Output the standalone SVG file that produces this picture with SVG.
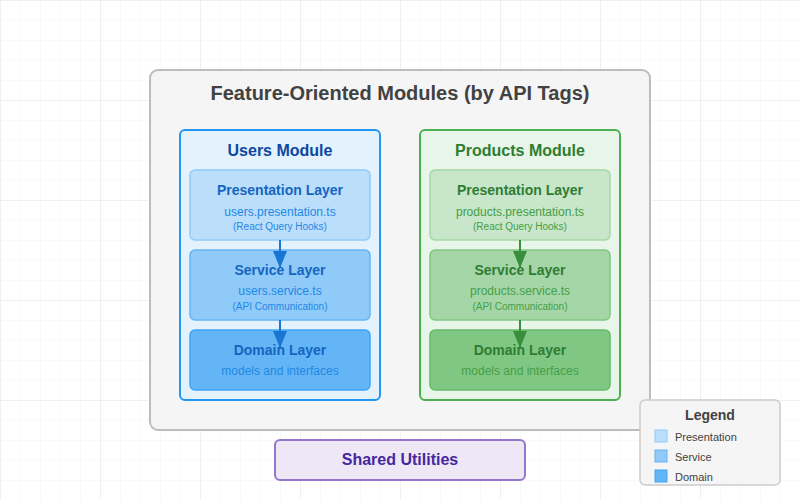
<svg xmlns="http://www.w3.org/2000/svg" width="800" height="500" viewBox="0 0 800 500">
<defs>
<pattern id="minor" width="20" height="20" patternUnits="userSpaceOnUse"><path d="M20 0 L0 0 0 20" fill="none" stroke="#f3f3f3" stroke-width="1"/></pattern>
<pattern id="major" width="100" height="100" patternUnits="userSpaceOnUse"><rect width="100" height="100" fill="url(#minor)"/><path d="M100 0 L0 0 0 100" fill="none" stroke="#e6e6e6" stroke-width="1"/></pattern>
<marker id="ab" markerUnits="userSpaceOnUse" markerWidth="17" markerHeight="14" refX="17" refY="7" orient="auto"><path d="M0,0 L17,7 L0,14 z" fill="#1976d2"/></marker>
<marker id="ag" markerUnits="userSpaceOnUse" markerWidth="17" markerHeight="14" refX="17" refY="7" orient="auto"><path d="M0,0 L17,7 L0,14 z" fill="#388e3c"/></marker>
</defs>
<style>
text{font-family:"Liberation Sans",Arial,sans-serif;text-anchor:middle}
.t{font-weight:bold;font-size:16px}
.h{font-weight:bold;font-size:14px}
.f{font-size:12px}
.s{font-size:10px}
.ub{fill:#0d47a1}.u{fill:#1565c0}.ul{fill:#1e88e5}
.pb{fill:#2e7d32}.p{fill:#2e7d32}.pl{fill:#43a047}
.lg{font-size:11px;fill:#424242;text-anchor:start}
</style>
<rect width="800" height="500" fill="#fff"/>
<rect width="800" height="500" fill="url(#major)"/>
<g id="container">
<rect x="150" y="70" width="500" height="360" rx="8" fill="#f5f5f5" stroke="#bdbdbd" stroke-width="2"/>
<text x="400" y="100" style="font-weight:bold;font-size:20px;fill:#424242">Feature-Oriented Modules (by API Tags)</text>
</g>
<g id="users-module">
<rect x="180" y="130" width="200" height="270" rx="5" fill="#e3f2fd" stroke="#2196f3" stroke-width="2"/>
<text x="280" y="156" class="t ub">Users Module</text>
</g>
<g id="users-presentation">
<rect x="190" y="170" width="180" height="70" rx="5" fill="#bbdefb" stroke="#90caf9" stroke-width="1.5"/>
<text x="280" y="195" class="h u">Presentation Layer</text>
<text x="280" y="216" class="f ul">users.presentation.ts</text>
<text x="280" y="230" class="s ul">(React Query Hooks)</text>
</g>
<g id="users-service">
<rect x="190" y="250" width="180" height="70" rx="5" fill="#90caf9" stroke="#64b5f6" stroke-width="1.5"/>
<text x="280" y="275" class="h u">Service Layer</text>
<text x="280" y="295" class="f ul">users.service.ts</text>
<text x="280" y="310" class="s ul">(API Communication)</text>
</g>
<g id="users-domain">
<rect x="190" y="330" width="180" height="60" rx="5" fill="#64b5f6" stroke="#42a5f5" stroke-width="1.5"/>
<text x="280" y="355" class="h u">Domain Layer</text>
<text x="280" y="375" class="f" style="fill:#1e88e5">models and interfaces</text>
</g>
<g id="products-module">
<rect x="420" y="130" width="200" height="270" rx="5" fill="#e8f5e9" stroke="#4caf50" stroke-width="2"/>
<text x="520" y="156" class="t pb">Products Module</text>
</g>
<g id="products-presentation">
<rect x="430" y="170" width="180" height="70" rx="5" fill="#c8e6c9" stroke="#a5d6a7" stroke-width="1.5"/>
<text x="520" y="195" class="h p">Presentation Layer</text>
<text x="520" y="216" class="f pl">products.presentation.ts</text>
<text x="520" y="230" class="s pl">(React Query Hooks)</text>
</g>
<g id="products-service">
<rect x="430" y="250" width="180" height="70" rx="5" fill="#a5d6a7" stroke="#81c784" stroke-width="1.5"/>
<text x="520" y="275" class="h p">Service Layer</text>
<text x="520" y="295" class="f pl">products.service.ts</text>
<text x="520" y="310" class="s pl">(API Communication)</text>
</g>
<g id="products-domain">
<rect x="430" y="330" width="180" height="60" rx="5" fill="#81c784" stroke="#66bb6a" stroke-width="1.5"/>
<text x="520" y="355" class="h p">Domain Layer</text>
<text x="520" y="375" class="f pl">models and interfaces</text>
</g>
<g id="connectors" stroke-width="2">
<line x1="280" y1="240" x2="280" y2="268" stroke="#1976d2" marker-end="url(#ab)"/>
<line x1="280" y1="320" x2="280" y2="348" stroke="#1976d2" marker-end="url(#ab)"/>
<line x1="520" y1="240" x2="520" y2="268" stroke="#388e3c" marker-end="url(#ag)"/>
<line x1="520" y1="320" x2="520" y2="348" stroke="#388e3c" marker-end="url(#ag)"/>
</g>
<g id="shared-utilities">
<rect x="275" y="440" width="250" height="40" rx="5" fill="#ede7f6" stroke="#9575cd" stroke-width="2"/>
<text x="400" y="465" class="t" style="fill:#4527a0">Shared Utilities</text>
</g>
<g id="legend">
<rect x="640" y="400" width="140" height="85" rx="5" fill="#f5f5f5" stroke="#cccccc" stroke-width="1.5"/>
<text x="710" y="420" class="h" style="fill:#424242">Legend</text>
<rect x="655" y="430" width="12" height="12" fill="#bbdefb" stroke="#90caf9"/>
<text x="675" y="441" class="lg">Presentation</text>
<rect x="655" y="450" width="12" height="12" fill="#90caf9" stroke="#64b5f6"/>
<text x="675" y="461" class="lg">Service</text>
<rect x="655" y="470" width="12" height="12" fill="#64b5f6" stroke="#42a5f5"/>
<text x="675" y="481" class="lg">Domain</text>
</g>
</svg>
